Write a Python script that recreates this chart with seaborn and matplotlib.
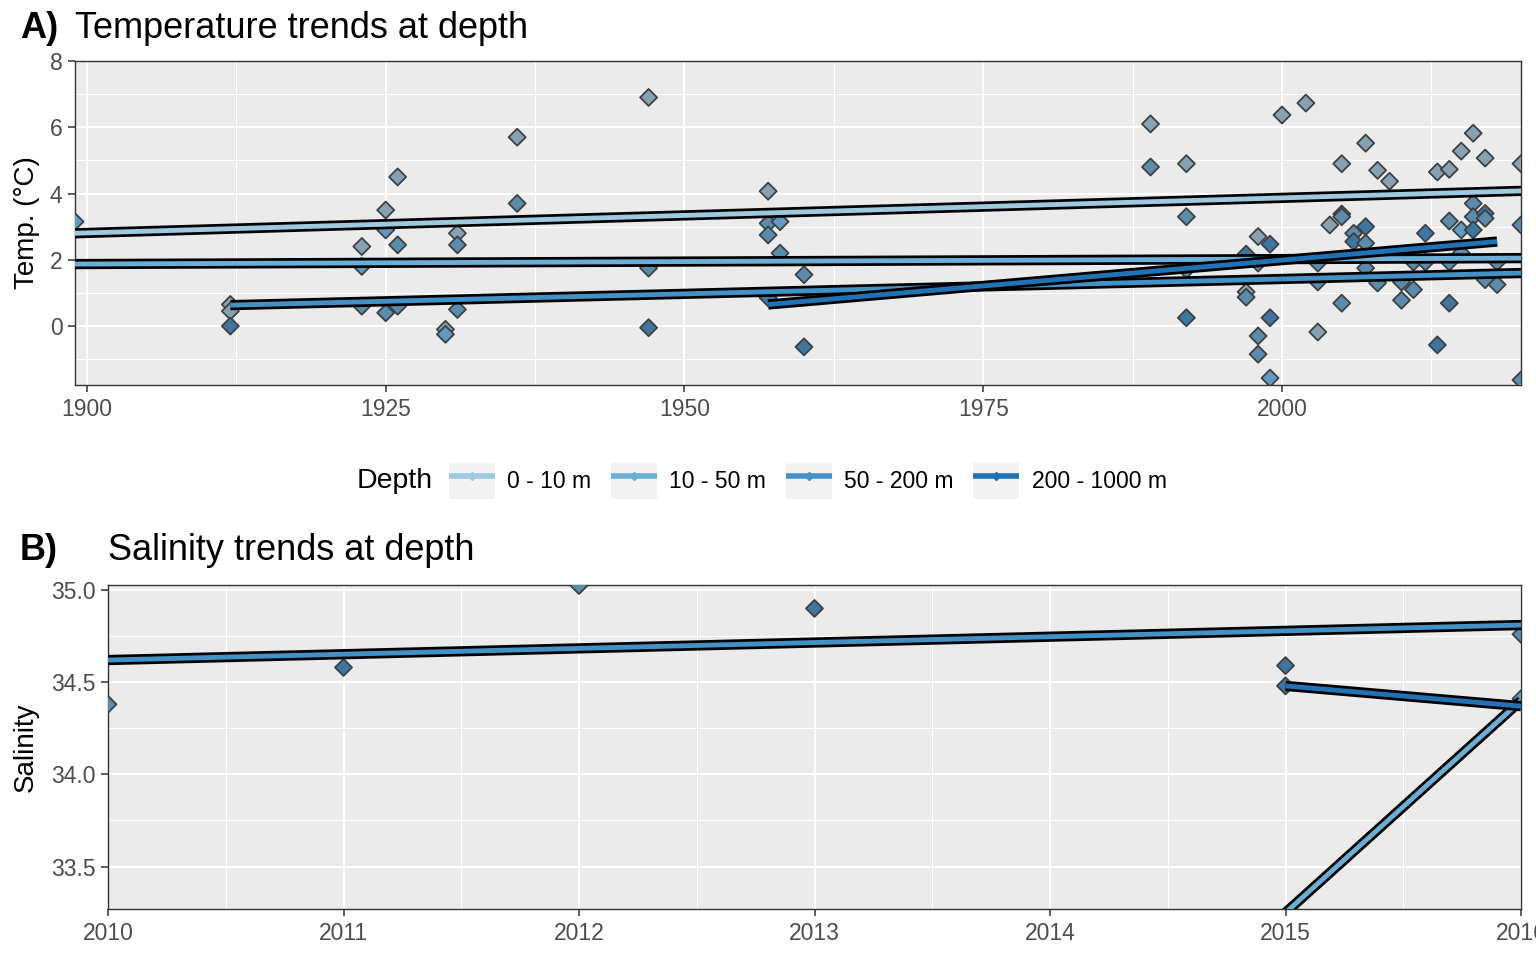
import matplotlib
matplotlib.use("Agg")
import matplotlib.pyplot as plt
import matplotlib.patheffects as pe
from matplotlib.lines import Line2D
from matplotlib.patches import Patch
from matplotlib.legend_handler import HandlerTuple
from matplotlib.ticker import MultipleLocator, FormatStrFormatter
import pandas as pd
import seaborn as sns

depth_levels = ["0 - 10 m", "10 - 50 m", "50 - 200 m", "200 - 1000 m"]
line_colors = ["#9ecae1", "#6baed6", "#4292c6", "#2171b5"]
point_colors = ["#87a3b3", "#5f9bc4", "#5a8cae", "#3d76a0"]

# temperature samples (year, deg C, depth index)
temp_year = [1899, 1912, 1912, 1912, 1923, 1923, 1923, 1925, 1925, 1925,
             1926, 1926, 1926, 1930, 1930, 1931, 1931, 1931, 1936, 1936,
             1947, 1947, 1947, 1957, 1957, 1957, 1957, 1958, 1958, 1960,
             1960, 1989, 1989, 1992, 1992, 1992, 1992, 1997, 1997, 1997,
             1998, 1998, 1998, 1998, 1999, 1999, 1999, 2000, 2002, 2003,
             2003, 2003, 2004, 2005, 2005, 2005, 2005, 2006, 2006, 2007,
             2007, 2007, 2007, 2008, 2008, 2009, 2010, 2010, 2011, 2011,
             2012, 2012, 2013, 2013, 2014, 2014, 2014, 2014, 2015, 2015,
             2015, 2016, 2016, 2016, 2016, 2017, 2017, 2017, 2017, 2018,
             2018, 2020, 2020, 2020]
temp_value = [3.15, 0.65, 0.45, 0.0, 2.4, 1.8, 0.6, 3.5, 2.9, 0.4,
              4.5, 2.45, 0.6, -0.1, -0.25, 2.8, 2.45, 0.5, 5.7, 3.7,
              6.9, 1.75, -0.05, 4.07, 3.1, 2.75, 0.85, 3.15, 2.2, 1.55,
              -0.63, 6.1, 4.8, 4.9, 3.3, 1.7, 0.25, 2.17, 1.03, 0.87,
              2.7, 1.9, -0.3, -0.85, 2.47, 0.25, -1.57, 6.37, 6.73, -0.18,
              1.9, 1.33, 3.05, 4.9, 3.38, 3.3, 0.69, 2.8, 2.55, 5.52,
              3.0, 2.5, 1.75, 4.7, 1.3, 4.37, 1.33, 0.78, 1.1, 1.93,
              2.8, 1.93, 4.65, -0.57, 4.73, 3.17, 0.69, 1.93, 5.28, 2.9,
              2.2, 5.82, 3.7, 3.3, 2.9, 5.07, 3.4, 3.25, 1.4, 1.25,
              1.93, 4.9, 3.05, -1.63]
temp_depth = [1, 0, 0, 3, 0, 1, 2, 0, 1, 2,
              0, 2, 2, 0, 1, 0, 2, 2, 0, 2,
              0, 2, 3, 0, 2, 2, 3, 1, 2, 2,
              3, 0, 2, 0, 2, 2, 3, 3, 0, 2,
              0, 2, 2, 2, 3, 3, 1, 0, 0, 0,
              2, 2, 0, 0, 3, 2, 2, 2, 3, 0,
              3, 2, 2, 0, 2, 0, 2, 2, 2, 2,
              3, 2, 0, 3, 0, 2, 3, 2, 0, 1,
              2, 0, 2, 2, 3, 0, 3, 2, 2, 2,
              2, 0, 2, 2]

# temperature trend lines
temp_trend_depth = [0, 1, 2, 3]
temp_trend_start = [1899, 1899, 1912, 1957]
temp_trend_end = [2020, 2020, 2020, 2018]
temp_trend_v0 = [2.8, 1.87, 0.63, 0.65]
temp_trend_v1 = [4.08, 2.05, 1.6, 2.55]

# salinity samples
sal_year = [2010, 2011, 2012, 2013, 2015, 2015, 2016, 2016]
sal_value = [34.38, 34.58, 35.024, 34.90, 34.59, 34.48, 34.76, 34.41]
sal_depth = [2, 3, 2, 3, 3, 3, 2, 1]

# salinity trend lines
sal_trend_depth = [1, 2, 3]
sal_trend_start = [2015, 2010, 2015]
sal_trend_end = [2016, 2016, 2016]
sal_trend_v0 = [33.25, 34.62, 34.48]
sal_trend_v1 = [34.40, 34.81, 34.37]


def points_frame(years, values, depths):
    return pd.DataFrame({"year": years, "value": values,
                         "depth": [depth_levels[d] for d in depths]})


def trend_frame(depths, start, end, v0, v1):
    rows = []
    for d, a, b, y0, y1 in zip(depths, start, end, v0, v1):
        rows.append({"depth": depth_levels[d], "year": a, "value": y0})
        rows.append({"depth": depth_levels[d], "year": b, "value": y1})
    return pd.DataFrame(rows)


sns.set_theme(style="darkgrid")
plt.rcParams["font.family"] = ["Liberation Sans", "DejaVu Sans"]
plt.rcParams["text.color"] = "black"
plt.rcParams["axes.labelcolor"] = "black"

point_pal = dict(zip(depth_levels, point_colors))
line_pal = dict(zip(depth_levels, line_colors))

fig = plt.figure(figsize=(15.36, 9.6), dpi=100)
W, H = 1536, 960
ax1 = fig.add_axes([75 / W, 1 - 385 / H, (1521 - 75) / W, (385 - 61) / H])
ax2 = fig.add_axes([108 / W, 1 - 909 / H, (1521 - 108) / W, (909 - 585) / H])


def draw_panel(ax, pts, trends):
    sns.scatterplot(data=pts, x="year", y="value", hue="depth", palette=point_pal,
                    hue_order=depth_levels, marker="D", s=75, edgecolor="#404040",
                    linewidth=1.3, legend=False, ax=ax, zorder=3)
    sns.lineplot(data=trends, x="year", y="value", hue="depth", palette=line_pal,
                 hue_order=depth_levels, units="depth", estimator=None, sort=False,
                 lw=3.5, legend=False, ax=ax, zorder=4)
    for ln in ax.lines:
        ln.set_solid_capstyle("butt")
        ln.set_path_effects([pe.Stroke(linewidth=7.4, foreground="black"), pe.Normal()])
    ax.set_facecolor("#ebebeb")
    ax.grid(which="major", color="white", lw=1.5)
    ax.grid(which="minor", color="white", lw=0.75)
    ax.set_axisbelow(True)
    for s in ax.spines.values():
        s.set_visible(True)
        s.set_color("#333333")
        s.set_linewidth(1.0)
    ax.tick_params(which="major", length=5, width=1.1, color="#333333",
                   labelsize=16.5, labelcolor="#4d4d4d", bottom=True, left=True, pad=4)
    ax.tick_params(axis="x", which="major", pad=4.5)
    ax.tick_params(which="minor", length=0)
    ax.set_xlabel("")


draw_panel(ax1, points_frame(temp_year, temp_value, temp_depth),
           trend_frame(temp_trend_depth, temp_trend_start, temp_trend_end,
                       temp_trend_v0, temp_trend_v1))
ax1.set_xlim(1899, 2020)
ax1.set_ylim(-1.78, 8.0)
ax1.xaxis.set_major_locator(MultipleLocator(25))
ax1.xaxis.set_minor_locator(MultipleLocator(12.5))
ax1.yaxis.set_major_locator(MultipleLocator(2))
ax1.yaxis.set_minor_locator(MultipleLocator(1))
ax1.set_ylabel("Temp. (°C)", fontsize=20)
ax1.yaxis.set_label_coords((40 - 75) / 1446, 0.5)

draw_panel(ax2, points_frame(sal_year, sal_value, sal_depth),
           trend_frame(sal_trend_depth, sal_trend_start, sal_trend_end,
                       sal_trend_v0, sal_trend_v1))
ax2.set_xlim(2010, 2016)
ax2.set_ylim(33.27, 35.027)
ax2.xaxis.set_major_locator(MultipleLocator(1))
ax2.xaxis.set_minor_locator(MultipleLocator(0.5))
ax2.yaxis.set_major_locator(MultipleLocator(0.5))
ax2.yaxis.set_minor_locator(MultipleLocator(0.25))
ax2.yaxis.set_major_formatter(FormatStrFormatter("%.1f"))
ax2.set_ylabel("Salinity", fontsize=20)
ax2.yaxis.set_label_coords((39 - 108) / 1413, 0.5)

# titles
fig.text(20 / W, 1 - 28 / H, "A)", fontsize=26, fontweight="bold", va="center")
fig.text(75 / W, 1 - 28 / H, "Temperature trends at depth", fontsize=26, va="center")
fig.text(20 / W, 1 - 551 / H, "B)", fontsize=26, fontweight="bold", va="center")
fig.text(108 / W, 1 - 551 / H, "Salinity trends at depth", fontsize=26, va="center")

# legend
handles = []
for c in line_colors:
    key = Patch(facecolor="#f2f2f2", edgecolor="none")
    ln = Line2D([], [], color=c, lw=4, marker="D", markersize=4,
                markerfacecolor=c, markeredgecolor=c, solid_capstyle="butt")
    handles.append((key, ln))
fig.text(357 / W, 1 - 481 / H, "Depth", fontsize=20.5, va="center")
fig.legend(handles, depth_levels, loc="center left",
           bbox_to_anchor=(449 / W, 1 - 481 / H), ncol=4, frameon=False,
           fontsize=16.5, handlelength=2.0, handleheight=2.0, handletextpad=0.55,
           columnspacing=0.85, borderpad=0, borderaxespad=0,
           handler_map={tuple: HandlerTuple(ndivide=1, pad=0)})

fig.savefig("out.png", dpi=100)
